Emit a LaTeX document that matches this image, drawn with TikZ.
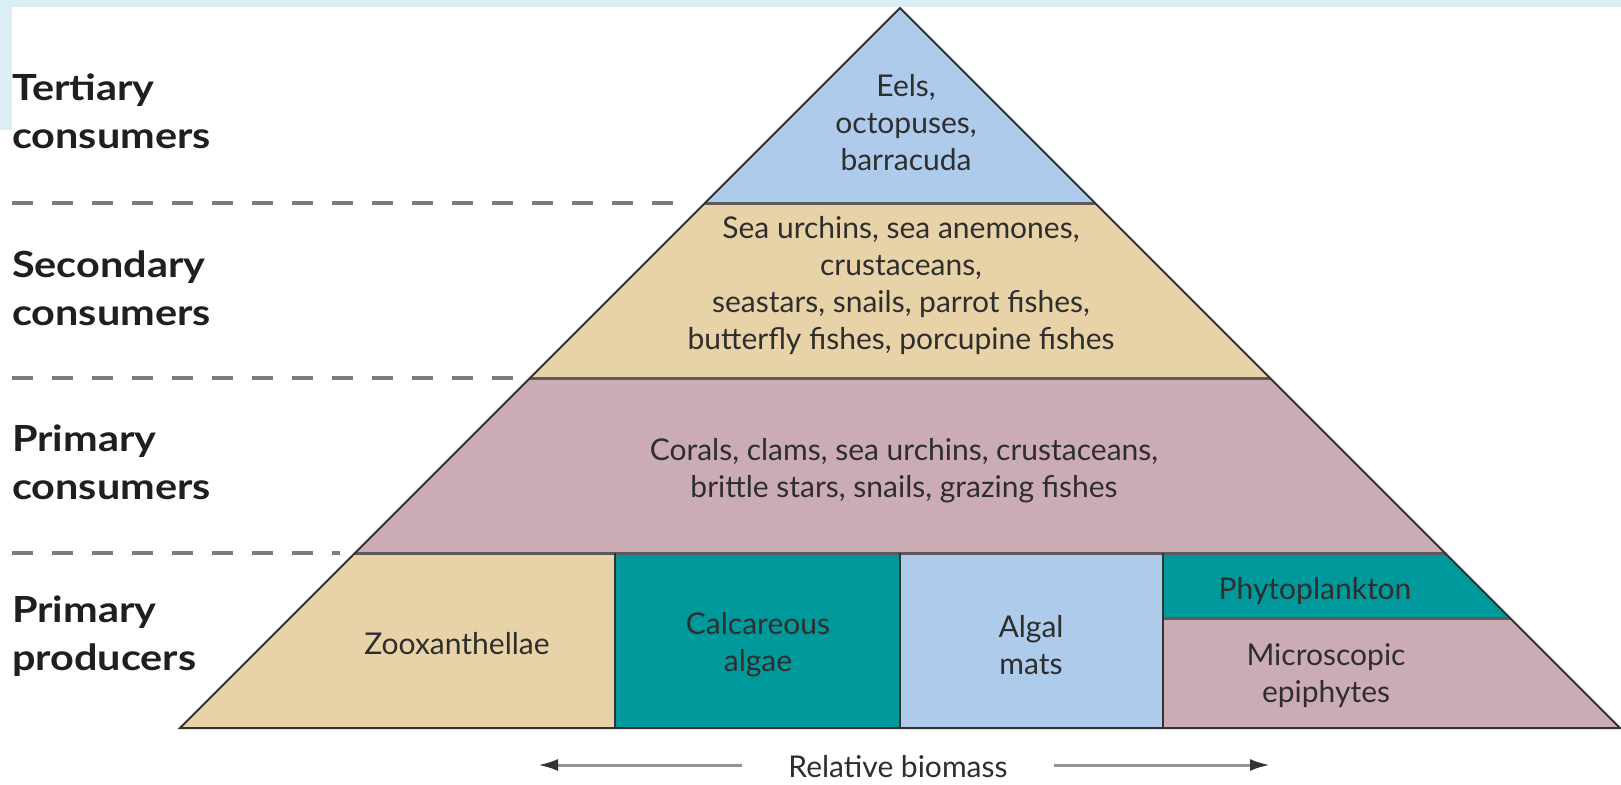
\documentclass[tikz,border=0pt]{standalone}
\usepackage{fontspec}
\setmainfont{Lato}
\newfontfamily\lvlfont[FakeStretch=1.15]{Lato}
\usetikzlibrary{arrows.meta}
\definecolor{bandblue}{HTML}{D9EFF5}
\definecolor{lblue}{HTML}{AECBEB}
\definecolor{tanc}{HTML}{E8D3A8}
\definecolor{mauve}{HTML}{CCACB4}
\definecolor{tealc}{HTML}{00999B}
\definecolor{edgec}{HTML}{333333}
\definecolor{divc}{HTML}{5E5A5C}
\definecolor{dashc}{HTML}{7B7B7B}
\definecolor{txtc}{HTML}{2E2E2E}
\begin{document}
\begin{tikzpicture}[x=1pt,y=-1pt,
  lvl/.style={font=\lvlfont\fontsize{36}{48}\selectfont\bfseries, text=black!88, anchor=west, align=left, inner sep=0pt},
  inner/.style={font=\fontsize{30}{37}\selectfont, text=txtc, align=center, inner sep=0pt},
  sepline/.style={draw=dashc, line width=4pt, dash pattern=on 21pt off 19pt},
  divline/.style={draw=divc, line width=3pt},
  outline/.style={draw=edgec, line width=2pt, line join=miter},
  arr/.style={draw=gray!85, line width=3pt, -{Latex[length=20pt,width=12pt,color=black!80]}}
]
\useasboundingbox (0,0) rectangle (1621,784);
\fill[white] (0,0) rectangle (1621,784);
\fill[bandblue] (0,0) rectangle (1621,7);
\fill[bandblue] (0,0) rectangle (12,130);

% key points
\coordinate (A) at (900,8);
\coordinate (L1) at (705,203);  \coordinate (R1) at (1095,203);
\coordinate (L2) at (530,378);  \coordinate (R2) at (1270,378);
\coordinate (L3) at (355,553);  \coordinate (R3) at (1445,553);
\coordinate (R4) at (1510,618);
\coordinate (BL) at (180,728);  \coordinate (BR) at (1620,728);
\coordinate (V1t) at (615,553); \coordinate (V1b) at (615,728);
\coordinate (V2t) at (900,553); \coordinate (V2b) at (900,728);
\coordinate (V3t) at (1163,553); \coordinate (V3m) at (1163,618); \coordinate (V3b) at (1163,728);

% fills
\fill[lblue] (A) -- (L1) -- (R1) -- cycle;
\fill[tanc] (L1) -- (L2) -- (R2) -- (R1) -- cycle;
\fill[mauve] (L2) -- (L3) -- (R3) -- (R2) -- cycle;
\fill[tanc] (L3) -- (BL) -- (V1b) -- (V1t) -- cycle;
\fill[tealc] (V1t) rectangle (V2b);
\fill[lblue] (V2t) rectangle (V3b);
\fill[tealc] (V3t) -- (R3) -- (R4) -- (V3m) -- cycle;
\fill[mauve] (V3m) -- (R4) -- (BR) -- (V3b) -- cycle;

% dividers
\draw[divline] (L1) -- (R1);
\draw[divline] (L2) -- (R2);
\draw[divline] (L3) -- (R3);
\draw[divline] (V3m) -- (R4);
\draw[outline] (V1t) -- (V1b);
\draw[outline] (V2t) -- (V2b);
\draw[outline] (V3t) -- (V3b);
\draw[outline] (A) -- (BL) -- (BR) -- cycle;

% dashed level separators
\coordinate (d1s) at (12,203); \coordinate (d1e) at (673,203);
\coordinate (d2s) at (12,378); \coordinate (d2e) at (513,378);
\coordinate (d3s) at (12,553); \coordinate (d3e) at (340,553);
\draw[sepline] (d1s) -- (d1e);
\draw[sepline] (d2s) -- (d2e);
\draw[sepline] (d3s) -- (d3e);

% level labels
\node[lvl] (lt) at (12,111) {Tertiary\\consumers};
\node[lvl] (ls) at (12,288) {Secondary\\consumers};
\node[lvl] (lp) at (12,462) {Primary\\consumers};
\node[lvl] (lpp) at (12,636) {Primary\\producers};

% block texts
\node[inner] (tert) at (906,123) {Eels,\\octopuses,\\barracuda};
\node[inner] (sec) at (901,286) {Sea urchins, sea anemones,\\crustaceans,\\seastars, snails, parrot fishes,\\butterfly fishes, porcupine fishes};
\node[inner] (prim) at (904,471) {Corals, clams, sea urchins, crustaceans,\\brittle stars, snails, grazing fishes};
\node[inner] (zoo) at (457,644) {Zooxanthellae};
\node[inner] (calc) at (758,645) {Calcareous\\algae};
\node[inner] (alg) at (1031,645) {Algal\\mats};
\node[inner] (phy) at (1315,591) {Phytoplankton};
\node[inner] (mic) at (1326,676) {Microscopic\\epiphytes};

% relative biomass axis
\node[inner] (rb) at (898,767) {Relative biomass};
\coordinate (la1) at (742,765); \coordinate (la2) at (538,765);
\coordinate (ra1) at (1054,765); \coordinate (ra2) at (1270,765);
\draw[arr] (la1) -- (la2);
\draw[arr] (ra1) -- (ra2);
\end{tikzpicture}
\end{document}
